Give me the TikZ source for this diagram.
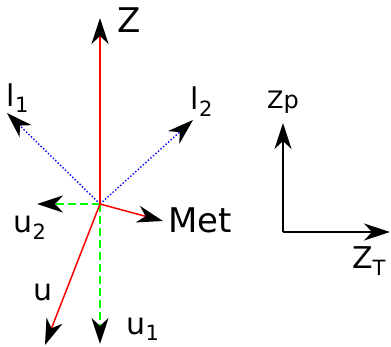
\documentclass[tikz,border=0pt]{standalone}
\usepackage{fontspec}
\setmainfont{DejaVu Sans}
\usetikzlibrary{arrows.meta, positioning}

\begin{document}
\begin{tikzpicture}[x=1pt, y=-1pt,
  tip/.style={-{Stealth[black, length=26pt, width=17pt, inset=8pt]}},
  vec/.style={tip, red, line width=1.5pt},
  ray/.style={tip, blue, dotted, line width=1.4pt},
  proj/.style={tip, green, dash pattern=on 8pt off 4pt, line width=2.5pt},
  axis/.style={tip, black, line width=1.8pt},
  big/.style={font=\fontsize{34}{40}\selectfont, inner sep=0pt},
  mid/.style={font=\fontsize{30}{36}\selectfont, inner sep=0pt},
  small/.style={font=\fontsize{24}{28}\selectfont, inner sep=0pt}]

\useasboundingbox (0,0) rectangle (391,347);

% vectors around the centre
\coordinate (o) at (100,204);
\coordinate (ztip) at (100,18);
\coordinate (l1tip) at (7,113);
\coordinate (l2tip) at (193,120);
\coordinate (u2tip) at (37,204);
\coordinate (mettip) at (163,221);
\coordinate (utip) at (45,345);
\coordinate (u1tip) at (100,344);

\node[big] (zlab) at (129,20) {Z};
\node[mid] (l1lab) at (18,98) {l\textsubscript{1}};
\node[mid] (l2lab) at (202,102) {l\textsubscript{2}};
\node[mid] (u2lab) at (30,228) {u\textsubscript{2}};
\node[big] (metlab) at (200,220) {Met};
\node[mid] (ulab) at (43,292) {u};
\node[mid] (u1lab) at (143,329) {u\textsubscript{1}};

\draw[ray] (o) -- (l1tip);
\draw[ray] (o) -- (l2tip);
\draw[proj] (o) -- (u2tip);
\draw[proj] (o) -- (u1tip);
\draw[vec] (o) -- (ztip);
\draw[vec] (o) -- (mettip);
\draw[vec] (o) -- (utip);

% frame on the right
\coordinate (c) at (283,232);
\coordinate (zptip) at (283,123);
\coordinate (zttip) at (390,232);

\node[small] (zplab) at (283,102) {Zp};
\node[mid] (ztlab) at (369,261) {Z\textsubscript{T}};

\draw[axis] (c) -- (zptip);
\draw[axis] (c) -- (zttip);

\end{tikzpicture}
\end{document}
